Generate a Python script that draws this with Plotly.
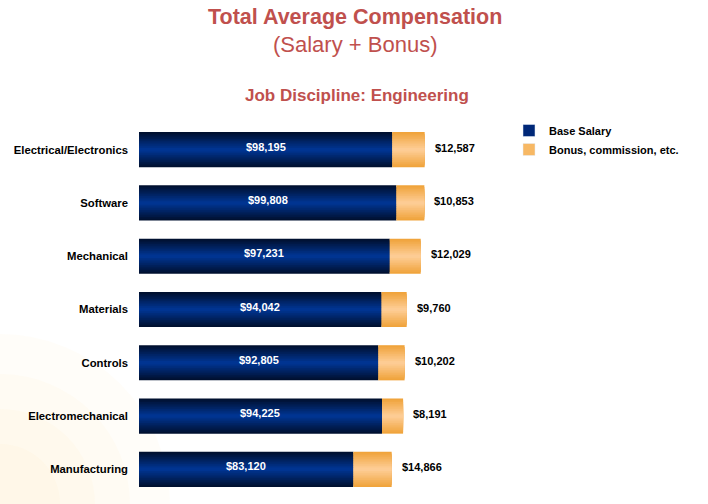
import plotly.graph_objects as go

categories = ["Electrical/Electronics", "Software", "Mechanical", "Materials",
              "Controls", "Electromechanical", "Manufacturing"]
base_salary = [98195, 99808, 97231, 94042, 92805, 94225, 83120]
bonus = [12587, 10853, 12029, 9760, 10202, 8191, 14866]
series_names = ["Base Salary", "Bonus, commission, etc."]

NAVY_EDGE = (0, 16, 48)
NAVY_MID = (0, 52, 145)
ORG_EDGE = (240, 164, 60)
ORG_MID = (253, 204, 148)
BAR_W = 0.66
LAYERS = 10
FONT = "Arial, Liberation Sans, sans-serif"
TITLE_COLOR = "#C0504D"

ML, MR, MT, MB = 139, 208, 123, 8
W, H = 708, 504


def mix(a, b, t):
    return "rgb(%d,%d,%d)" % tuple(round(a[i] + (b[i] - a[i]) * t) for i in range(3))


def px(pix):
    return (pix - ML) / (W - ML - MR)


def py(pix):
    return (H - MB - pix) / (H - MT - MB)


totals = [s + b for s, b in zip(base_salary, bonus)]

fig = go.Figure()

# Gradient bars: overlaid layers of narrower, lighter bars
for k in range(LAYERS):
    t = k / (LAYERS - 1)
    w = BAR_W * (1 - k / LAYERS)
    fig.add_trace(go.Bar(
        y=categories, x=base_salary, base=[0] * len(categories), orientation="h",
        width=w, marker=dict(color=mix(NAVY_EDGE, NAVY_MID, t), line=dict(width=0)),
        name=series_names[0], showlegend=False, hoverinfo="skip"))
    fig.add_trace(go.Bar(
        y=categories, x=bonus, base=base_salary, orientation="h",
        width=w, marker=dict(color=mix(ORG_EDGE, ORG_MID, t), line=dict(width=0)),
        name=series_names[1], showlegend=False, hoverinfo="skip"))

# Legend-only entries
fig.add_trace(go.Bar(y=[None], x=[None], orientation="h", name=series_names[0],
                     marker=dict(color="rgb(0,40,120)")))
fig.add_trace(go.Bar(y=[None], x=[None], orientation="h", name=series_names[1],
                     marker=dict(color="rgb(247,184,100)")))

for c, s, b, tot in zip(categories, base_salary, bonus, totals):
    fig.add_annotation(x=s / 2, y=c, xref="x", yref="y", text="<b>${:,}</b>".format(s),
                       showarrow=False, yshift=3, xanchor="center", yanchor="middle",
                       font=dict(family=FONT, size=11, color="white"))
    fig.add_annotation(x=tot, y=c, xref="x", yref="y", text="<b>${:,}</b>".format(b),
                       showarrow=False, xanchor="left", yanchor="middle", xshift=8, yshift=2,
                       font=dict(family=FONT, size=11, color="black"))

fig.add_annotation(x=px(355), y=py(17), xref="paper", yref="paper",
                   xanchor="center", yanchor="middle",
                   text="<b>Total Average Compensation</b>", showarrow=False,
                   font=dict(family=FONT, size=21.5, color=TITLE_COLOR))
fig.add_annotation(x=px(355), y=py(44), xref="paper", yref="paper",
                   xanchor="center", yanchor="middle",
                   text="(Salary + Bonus)", showarrow=False,
                   font=dict(family=FONT, size=22, color=TITLE_COLOR))
fig.add_annotation(x=px(357), y=py(96), xref="paper", yref="paper",
                   xanchor="center", yanchor="middle",
                   text="<b>Job Discipline: Engineering</b>", showarrow=False,
                   font=dict(family=FONT, size=17, color=TITLE_COLOR))

# Faint warm glow in the bottom-left corner
for r in [170, 130, 95, 60]:
    fig.add_shape(type="circle", xref="paper", yref="paper", layer="below",
                  x0=px(-r), x1=px(r), y0=py(H + r), y1=py(H - r),
                  fillcolor="rgba(252,215,150,0.055)", line=dict(width=0))

fig.update_layout(
    width=W, height=H,
    margin=dict(l=ML, r=MR, t=MT, b=MB, autoexpand=False),
    barmode="overlay",
    plot_bgcolor="rgba(0,0,0,0)",
    paper_bgcolor="white",
    showlegend=True,
    legend=dict(x=px(509), xanchor="left", y=py(116), yanchor="top",
                font=dict(family=FONT, size=11, color="black", weight="bold"),
                bgcolor="rgba(0,0,0,0)", itemwidth=30, tracegroupgap=0),
    xaxis=dict(range=[0, 140000], visible=False),
    yaxis=dict(autorange="reversed", showgrid=False, zeroline=False, showline=False,
               ticks="", ticklabelstandoff=10, automargin=False,
               tickfont=dict(family=FONT, size=11.3, color="black", weight="bold")),
)

fig.write_html("out.html", config={"displayModeBar": False},
               post_script="document.body.style.margin='0';")
